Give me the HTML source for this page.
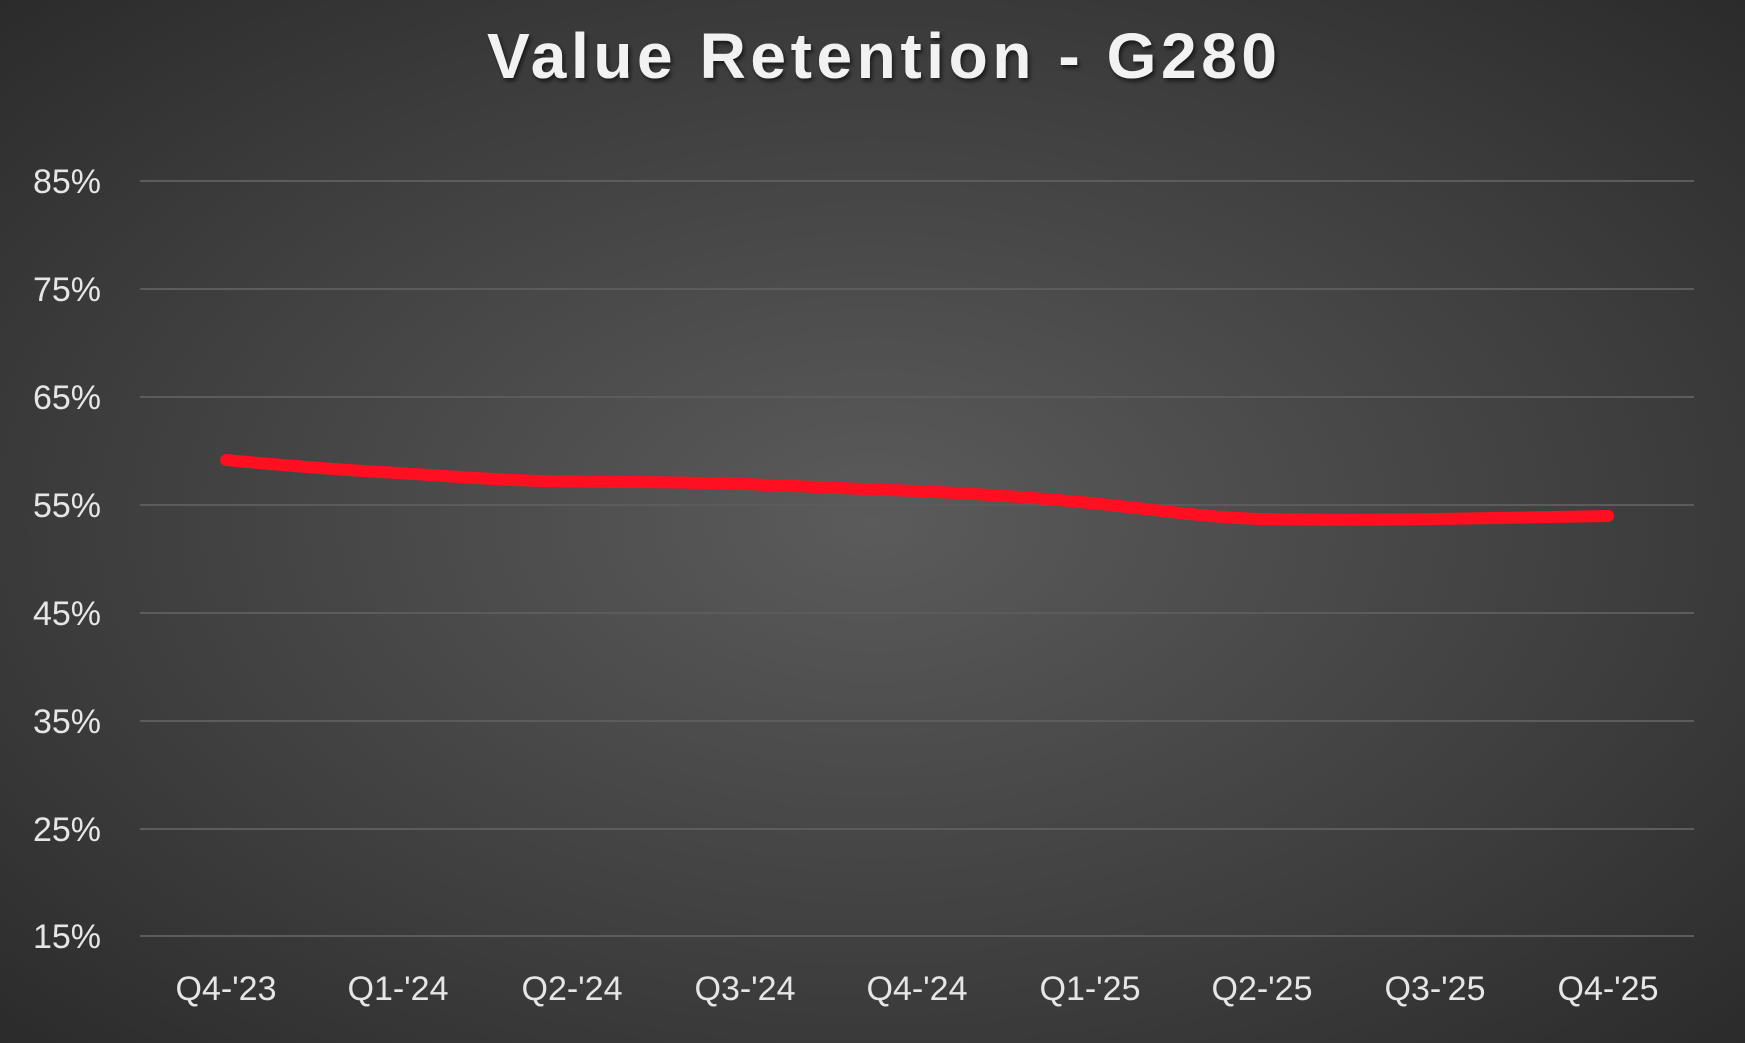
<!DOCTYPE html>
<html><head><style>
html,body{margin:0;padding:0}
body{width:1745px;height:1043px;overflow:hidden;background:radial-gradient(ellipse 75% 75% at 50% 50%,#5b5b5b 0%,#3d3d3d 60%,#282828 100%);font-family:"Liberation Sans",sans-serif}
</style></head><body>
<svg width="1745" height="1043" xmlns="http://www.w3.org/2000/svg" style="position:absolute;left:0;top:0">
<defs><filter id="sh"><feDropShadow dx="2" dy="3" stdDeviation="2" flood-color="#000" flood-opacity="0.6"/></filter></defs>
<text x="884" y="78" text-anchor="middle" font-size="64" font-weight="bold" fill="#f2f2f2" letter-spacing="4" textLength="794" filter="url(#sh)">Value Retention - G280</text>
<g stroke="#5c5c5c" stroke-width="2">
<line x1="140" x2="1694" y1="181" y2="181"/>
<line x1="140" x2="1694" y1="289" y2="289"/>
<line x1="140" x2="1694" y1="397" y2="397"/>
<line x1="140" x2="1694" y1="505" y2="505"/>
<line x1="140" x2="1694" y1="613" y2="613"/>
<line x1="140" x2="1694" y1="721" y2="721"/>
<line x1="140" x2="1694" y1="829" y2="829"/>
<line x1="140" x2="1694" y1="936" y2="936"/>
</g>
<g fill="#e6e6e6" font-size="34" text-anchor="end">
<text x="101" y="193">85%</text>
<text x="101" y="301">75%</text>
<text x="101" y="409">65%</text>
<text x="101" y="517">55%</text>
<text x="101" y="625">45%</text>
<text x="101" y="733">35%</text>
<text x="101" y="841">25%</text>
<text x="101" y="948">15%</text>
</g>
<g fill="#e6e6e6" font-size="34" text-anchor="middle">
<text x="226" y="1000">Q4-'23</text>
<text x="398" y="1000">Q1-'24</text>
<text x="572" y="1000">Q2-'24</text>
<text x="745" y="1000">Q3-'24</text>
<text x="917" y="1000">Q4-'24</text>
<text x="1090" y="1000">Q1-'25</text>
<text x="1262" y="1000">Q2-'25</text>
<text x="1435" y="1000">Q3-'25</text>
<text x="1608" y="1000">Q4-'25</text>
</g>
<path d="M226,460 C290,466 340,470 398,473 C460,477 510,481 572,481.5 C640,482 690,482 745,484 C810,487 860,489 917,491 C980,494 1040,498 1090,503 C1150,509 1210,518 1262,519 C1330,520 1380,520 1435,519 C1500,518 1560,517 1608,516" fill="none" stroke="#ff0f1f" stroke-width="12" stroke-linecap="round" stroke-linejoin="round"/>
</svg>
</body></html>
